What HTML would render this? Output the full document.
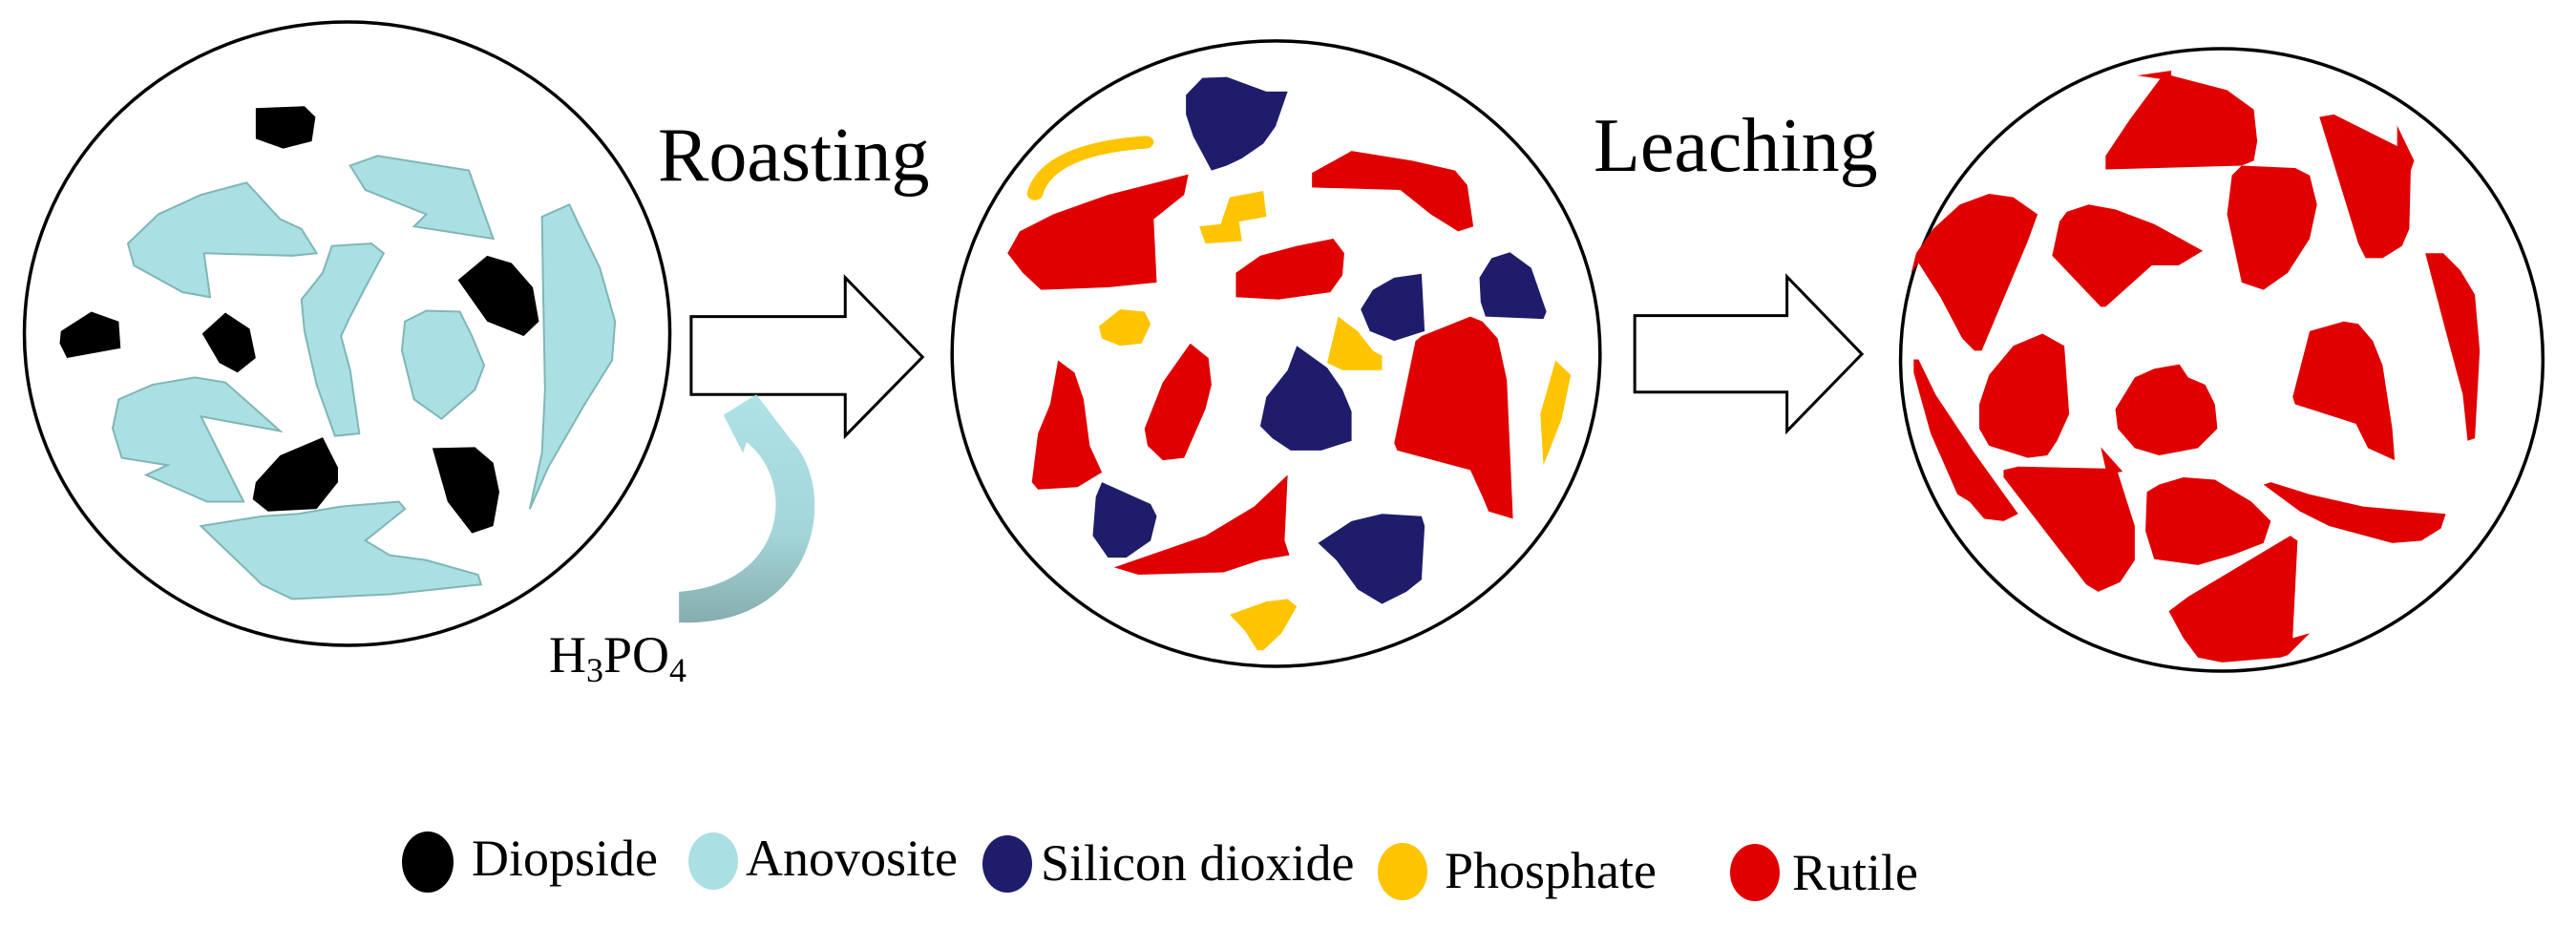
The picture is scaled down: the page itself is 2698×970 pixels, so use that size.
<!DOCTYPE html>
<html><head><meta charset="utf-8"><style>
html,body{margin:0;padding:0;background:#fff;}
svg{display:block;}
text{font-family:"Liberation Serif",serif;fill:#000;}
</style></head><body>
<svg width="2698" height="970" viewBox="0 0 2698 970" xmlns="http://www.w3.org/2000/svg">
<defs>
<linearGradient id="ag" x1="0" y1="0" x2="0" y2="1">
<stop offset="0" stop-color="#aee2e6"/><stop offset="0.6" stop-color="#a3d6da"/><stop offset="1" stop-color="#86adad"/>
</linearGradient>
</defs>
<!-- Panel 1 -->
<g transform="scale(0.6378,0.5102)">
<ellipse cx="570" cy="685" rx="530" ry="640" fill="none" stroke="#000" stroke-width="3.5" vector-effect="non-scaling-stroke"/>
<g fill="#aadfe3" stroke="#7fb6b6" stroke-width="2" vector-effect="non-scaling-stroke">
<polygon vector-effect="non-scaling-stroke" points="210,500 260,440 330,400 405,375 460,450 495,470 520,520 480,525 335,520 345,610 300,600 220,545"/>
<polygon vector-effect="non-scaling-stroke" points="575,340 620,320 770,350 810,490 680,465 700,440 600,390"/>
<polygon vector-effect="non-scaling-stroke" points="495,615 530,560 545,505 610,500 630,520 600,590 575,650 560,690 575,760 590,890 550,895 520,790 500,680"/>
<polygon vector-effect="non-scaling-stroke" points="665,660 700,638 755,640 775,690 795,750 780,800 725,860 680,820 660,720"/>
<polygon vector-effect="non-scaling-stroke" points="890,445 935,420 950,460 985,550 1010,660 1005,740 960,830 900,960 870,1045 890,930 895,800 892,600"/>
<polygon vector-effect="non-scaling-stroke" points="195,820 250,790 320,775 370,785 460,885 330,855 400,1030 340,1030 240,975 275,955 200,940 185,880"/>
<polygon vector-effect="non-scaling-stroke" points="330,1080 430,1060 490,1055 560,1040 655,1030 665,1045 600,1110 640,1140 700,1150 785,1180 790,1200 640,1220 480,1230 430,1200 380,1140"/>
</g>
<g fill="#000">
<polygon points="420,222 500,218 518,240 512,290 465,305 420,285"/>
<polygon points="100,680 150,640 195,660 198,715 110,735 98,705"/>
<polygon points="332,685 370,642 410,675 420,735 390,765 360,745"/>
<polygon points="752,575 800,525 840,540 875,590 885,660 860,690 800,660"/>
<polygon points="420,990 460,935 530,898 555,960 555,990 520,1045 440,1050 415,1025"/>
<polygon points="710,920 780,918 810,950 820,1010 810,1080 775,1095 735,1030"/>
</g>
<polygon points="1135,650 1388,650 1388,570 1515,733 1388,895 1388,810 1135,810" fill="#fff" stroke="#000" stroke-width="3" vector-effect="non-scaling-stroke"/>
<path d="M1115,1215 C1290,1200 1310,990 1226,908 L1220,930 L1188,852 L1242,810 L1300,905 C1380,1010 1340,1290 1115,1278 Z" fill="url(#ag)"/>
</g>
<text x="689" y="189" font-size="80">Roasting</text>
<text x="575" y="704" font-size="54">H<tspan font-size="36" dy="10">3</tspan><tspan dy="-10">PO</tspan><tspan font-size="36" dy="10">4</tspan></text>

<!-- Panel 2 -->
<g transform="translate(950,0) scale(0.6378,0.5102)">
<ellipse cx="606" cy="726" rx="532" ry="642" fill="none" stroke="#000" stroke-width="3.5" vector-effect="non-scaling-stroke"/>
<g fill="#1f1d6b">
<polygon points="458,195 485,160 525,158 590,188 625,188 605,260 585,295 550,325 525,340 500,350 470,280 458,235"/>
<polygon points="745,635 765,595 800,570 845,562 850,680 800,700 760,680"/>
<polygon points="940,570 960,530 990,518 1025,550 1050,640 1045,655 950,650 942,620"/>
<polygon points="640,710 690,755 715,800 730,845 730,905 680,925 630,925 600,900 580,875 590,815 625,760"/>
<polygon points="320,990 400,1035 410,1060 400,1110 360,1145 330,1145 305,1100 310,1020"/>
<polygon points="675,1115 730,1070 780,1055 845,1060 850,1080 845,1190 820,1215 780,1240 740,1210 705,1150"/>
</g>
<g fill="#ffc400">
<path d="M210,398 C225,330 300,300 392,292" fill="none" stroke="#ffc400" stroke-width="26" stroke-linecap="round"/>
<polygon points="480,465 515,460 530,405 585,392 590,445 545,455 550,495 490,500"/>
<polygon points="315,670 350,635 390,640 400,665 385,705 350,710 320,695"/>
<polygon points="708,650 740,680 765,720 780,730 780,760 715,760 690,745"/>
<polygon points="1065,740 1090,770 1075,860 1050,940 1045,955 1040,850"/>
<polygon points="530,1262 590,1235 625,1230 640,1245 615,1300 585,1335 575,1335 555,1295"/>
</g>
<g fill="#e00000">
<polygon points="165,520 185,475 240,440 330,400 462,358 455,400 405,450 410,580 330,590 220,595 190,560"/>
<polygon points="665,355 730,310 830,330 900,350 920,380 930,465 905,475 860,440 810,390 665,385"/>
<polygon points="540,560 580,525 640,505 700,490 718,520 715,565 695,600 610,615 540,610"/>
<polygon points="845,690 925,650 945,660 970,695 985,780 995,1065 955,1050 945,1020 925,965 805,925 800,910 835,700"/>
<polygon points="248,740 275,765 290,820 300,915 320,970 280,1000 215,1005 205,990 215,890 235,830"/>
<polygon points="465,705 495,735 500,790 490,840 455,940 420,945 395,915 390,880 420,785"/>
<polygon points="625,975 620,1110 628,1140 580,1150 520,1175 380,1180 340,1165 490,1100 570,1040"/>
</g>
<polygon points="1195,648 1445,648 1445,568 1568,727 1445,885 1445,805 1195,805" fill="#fff" stroke="#000" stroke-width="3" vector-effect="non-scaling-stroke"/>
</g>
<text x="1669" y="179" font-size="80">Leaching</text>

<!-- Panel 3 -->
<g transform="translate(1900,0) scale(0.5089,0.5102)">
<ellipse cx="839" cy="739" rx="661" ry="639" fill="none" stroke="#000" stroke-width="3.5" vector-effect="non-scaling-stroke"/>
<g fill="#e00000">
<polygon points="665,155 735,145 735,155 850,185 905,225 912,290 905,330 880,340 600,348 600,320 650,245 712,162"/>
<polygon points="1040,240 1070,235 1200,300 1200,258 1235,330 1228,350 1225,470 1210,505 1170,530 1135,530 1120,500"/>
<polygon points="860,360 880,340 990,345 1020,360 1035,420 1020,490 975,560 925,595 880,580 850,440"/>
<polygon points="210,520 245,470 300,420 360,398 410,405 460,440 440,495 345,720 330,720 305,695 260,610 215,540 200,560"/>
<polygon points="490,525 505,455 520,435 565,420 620,430 700,460 800,515 750,545 695,545 600,630 590,630"/>
<polygon points="1258,520 1295,520 1330,555 1360,605 1370,720 1360,900 1345,905 1335,810 1300,680"/>
<polygon points="1020,680 1090,660 1120,665 1150,700 1170,750 1190,880 1195,945 1140,920 1115,870 990,830 985,815"/>
<polygon points="340,830 360,770 410,710 470,685 515,710 525,850 500,905 480,935 440,940 360,915 340,880"/>
<polygon points="620,840 660,775 700,757 752,748 770,775 805,790 825,830 830,880 790,920 710,935 660,920 625,880"/>
<polygon points="205,738 215,738 250,810 330,930 420,1055 390,1070 350,1065 320,1030 295,1015 240,890 205,765"/>
<polygon points="390,965 420,958 600,962 590,918 635,968 625,970 660,1080 660,1150 630,1195 585,1215 560,1200 390,980"/>
<polygon points="685,1010 710,995 760,980 825,985 900,1030 940,1070 925,1115 860,1140 790,1160 700,1148 682,1090"/>
<polygon points="925,995 940,990 1020,1015 1130,1040 1300,1055 1290,1085 1250,1110 1190,1115 1060,1080 1000,1050"/>
<polygon points="730,1255 770,1225 980,1100 995,1110 985,1310 1020,1300 975,1345 960,1350 840,1360 790,1350 760,1310"/>
</g>
</g>

<!-- Legend -->
<ellipse cx="448" cy="903" rx="27" ry="32" fill="#000"/>
<text x="494" y="917" font-size="54">Diopside</text>
<ellipse cx="747" cy="902" rx="26" ry="30" fill="#aadfe3"/>
<text x="781" y="917" font-size="54">Anovosite</text>
<ellipse cx="1055" cy="905" rx="26" ry="30" fill="#1f1d6b"/>
<text x="1090" y="922" font-size="54">Silicon dioxide</text>
<ellipse cx="1469" cy="913" rx="26" ry="30" fill="#ffc400"/>
<text x="1513" y="930" font-size="54">Phosphate</text>
<ellipse cx="1838" cy="914" rx="26" ry="30" fill="#e00000"/>
<text x="1877" y="932" font-size="54">Rutile</text>
</svg>
</body></html>
